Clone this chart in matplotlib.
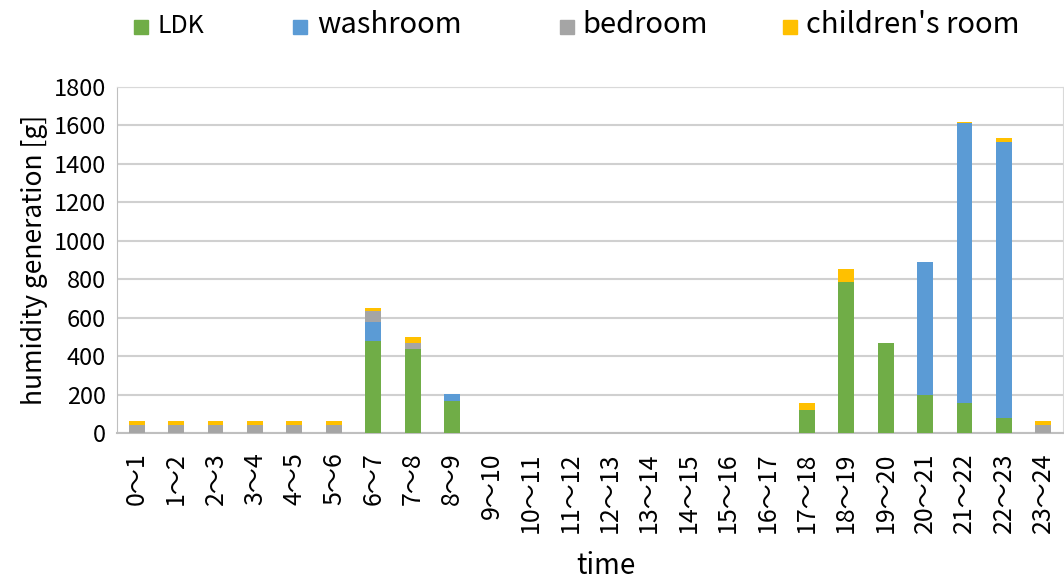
import matplotlib
matplotlib.use("Agg")
import matplotlib.pyplot as plt
from matplotlib.patches import Rectangle
import numpy as np

plt.rcParams['font.family'] = ['Noto Sans CJK JP', 'DejaVu Sans']

hours = ["0〜1", "1〜2", "2〜3", "3〜4", "4〜5", "5〜6", "6〜7", "7〜8", "8〜9", "9〜10",
         "10〜11", "11〜12", "12〜13", "13〜14", "14〜15", "15〜16", "16〜17", "17〜18",
         "18〜19", "19〜20", "20〜21", "21〜22", "22〜23", "23〜24"]
ldk = [0, 0, 0, 0, 0, 0, 480, 435, 168, 0, 0, 0, 0, 0, 0, 0, 0, 120, 787, 470, 196, 158, 80, 0]
washroom = [0, 0, 0, 0, 0, 0, 100, 0, 33, 0, 0, 0, 0, 0, 0, 0, 0, 0, 0, 0, 694, 1453, 1435, 0]
bedroom = [43, 43, 43, 43, 43, 43, 57, 32, 0, 0, 0, 0, 0, 0, 0, 0, 0, 0, 0, 0, 0, 0, 0, 43]
children = [17, 17, 17, 17, 17, 17, 13, 31, 0, 0, 0, 0, 0, 0, 0, 0, 0, 34, 66, 0, 0, 5, 20, 17]

series = [("LDK", ldk, "#70ad47"), ("washroom", washroom, "#5b9bd5"),
          ("bedroom", bedroom, "#a5a5a5"), ("children's room", children, "#ffc000")]

W, H = 1064, 583
fig = plt.figure(figsize=(W / 100, H / 100), dpi=100)
ax = fig.add_axes([117 / W, 1 - 433 / H, (1063 - 117) / W, (433 - 87) / H])

x = np.arange(len(hours))
bottom = np.zeros(len(hours))
for name, vals, color in series:
    v = np.array(vals, dtype=float)
    ax.bar(x, v, width=0.4, bottom=bottom, color=color, label=name, zorder=3)
    bottom += v

ax.set_xlim(-0.5, len(hours) - 0.5)
ax.set_ylim(0, 1800)
ax.set_yticks(np.arange(0, 1801, 200))
ax.yaxis.grid(True, color="#d0d0d0", linewidth=1.5, zorder=0)
ax.set_xticks(x)
ax.set_xticklabels(hours, rotation=90, fontsize=18)
ax.tick_params(axis="y", labelsize=17, length=0, pad=8)
ax.tick_params(axis="x", length=0, pad=14)
for s in ["top", "right"]:
    ax.spines[s].set_color("#d9d9d9")
ax.spines["left"].set_color("#bfbfbf")
ax.spines["bottom"].set_color("#bfbfbf")
ax.spines["bottom"].set_linewidth(1.5)

ax.set_ylabel("humidity generation [g]", fontsize=19, labelpad=4)
fig.text(606 / W, 1 - 566 / H, "time", fontsize=20, ha="center", va="center")

# legend row across the top
legend_pos = [(134, 157, 18), (293, 317, 21), (560, 582, 21), (783, 806, 21)]
for (name, _, color), (mx, tx, fs) in zip(series, legend_pos):
    fig.patches.append(Rectangle((mx / W, 1 - 34 / H), 14 / W, 14 / H,
                                 transform=fig.transFigure, color=color))
    fig.text(tx / W, 1 - 33 / H, name, fontsize=fs, va="baseline", ha="left")

fig.savefig("out.png", dpi=100)
